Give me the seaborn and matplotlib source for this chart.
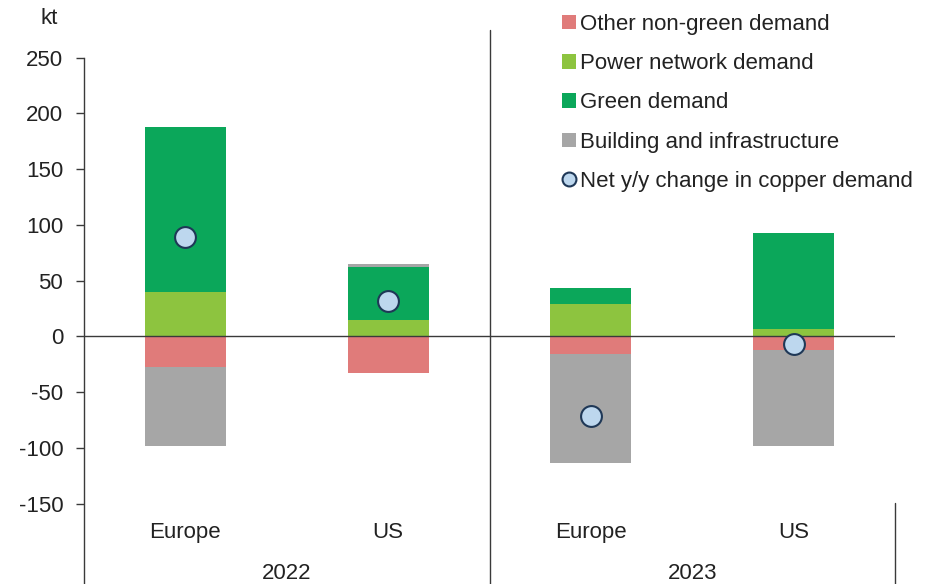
import numpy as np
import pandas as pd
import seaborn as sns
import matplotlib
matplotlib.use("Agg")
import matplotlib.pyplot as plt
from matplotlib.patches import Patch
from matplotlib.lines import Line2D

# ---- data (kt) ----
regions = ["Europe", "US", "Europe", "US"]
years = ["2022", "2022", "2023", "2023"]
other_non_green = [-27.5, -33.0, -16.0, -12.5]
power_network = [40.0, 14.5, 29.0, 6.5]
green_demand = [148.0, 47.5, 14.0, 86.5]
building_infra = [-71.0, 3.0, -97.5, -85.5]
net_change = [89.0, 32.0, -71.0, -6.5]
series_names = ["Other non-green demand", "Power network demand", "Green demand",
                "Building and infrastructure", "Net y/y change in copper demand"]
y_ticks = [-150, -100, -50, 0, 50, 100, 150, 200, 250]
unit_label = "kt"

# ---- style ----
c_other = "#E07B7A"
c_power = "#8DC43F"
c_green = "#0BA75A"
c_build = "#A6A6A6"
c_dot_face = "#BDD7EE"
c_dot_edge = "#1F3857"
c_axis = "#3A3A3A"
FS = 16

sns.set_theme(style="white")
plt.rcParams["font.family"] = ["Liberation Sans", "DejaVu Sans"]

keys = [f"{r} {y}" for r, y in zip(regions, years)]
df = pd.DataFrame({
    "key": keys,
    "other": other_non_green,
    "power": power_network,
    "green": green_demand,
    "build": building_infra,
    "net": net_change,
})
df["pos_top"] = df["power"] + df["green"]
df["build_end"] = np.where(df["build"] > 0, df["pos_top"] + df["build"], df["other"] + df["build"])

fig = plt.figure(figsize=(9.43, 5.84), dpi=100)
ax = fig.add_axes([84 / 943, 0, (895 - 84) / 943, (584 - 30) / 584])

# overlay stacked layers (largest extent first)
for col, color in [("build_end", c_build), ("pos_top", c_green),
                   ("power", c_power), ("other", c_other)]:
    sns.barplot(data=df, x="key", y=col, order=keys, color=color, saturation=1,
                width=0.4, errorbar=None, ax=ax, linewidth=0, zorder=1)

sns.pointplot(data=df, x="key", y="net", order=keys, linestyle="none", marker="o",
              markersize=15, color=c_dot_edge, errorbar=None, ax=ax)
dots = ax.lines[-1]
dots.set_markerfacecolor(c_dot_face)
dots.set_markeredgecolor(c_dot_edge)
dots.set_markeredgewidth(1.5)
dots.set_zorder(5)

ymin, ymax = -221.9, 274.7
ax.set_ylim(ymin, ymax)
ax.set_xlim(-0.5, len(keys) - 0.5)

ax.axhline(0, color=c_axis, lw=1, zorder=3)
# group separators
ax.plot([1.5, 1.5], [ymin, ymax], color=c_axis, lw=1, zorder=3, clip_on=False)
ax.plot([3.5, 3.5], [ymin, -149], color=c_axis, lw=1, zorder=3, clip_on=False)

for sp in ["top", "right", "bottom"]:
    ax.spines[sp].set_visible(False)
ax.spines["left"].set_color(c_axis)
ax.spines["left"].set_linewidth(1)
ax.spines["left"].set_bounds(ymin, 250)

ax.set_yticks(y_ticks)
ax.set_yticklabels([str(t) for t in y_ticks])
ax.tick_params(axis="y", left=True, length=6, width=1, color=c_axis, direction="out",
               pad=9, labelsize=FS, labelcolor="#222222")
ax.set_xticks([])
ax.set_xlabel("")
ax.set_ylabel("")

for i, r in enumerate(regions):
    ax.text(i, -176, r, ha="center", va="center", fontsize=FS, color="#222222")
for yr in sorted(set(years)):
    idx = [i for i, y in enumerate(years) if y == yr]
    ax.text(np.mean(idx), -212.5, yr, ha="center", va="center", fontsize=FS, color="#222222")

fig.text(40 / 943, 1 - 18 / 584, unit_label, ha="left", va="center", fontsize=FS, color="#222222")

handles = [
    Patch(facecolor=c_other, edgecolor="none"),
    Patch(facecolor=c_power, edgecolor="none"),
    Patch(facecolor=c_green, edgecolor="none"),
    Patch(facecolor=c_build, edgecolor="none"),
    Line2D([], [], linestyle="none", marker="o", markersize=10,
           markerfacecolor=c_dot_face, markeredgecolor=c_dot_edge, markeredgewidth=1.5),
]
leg = fig.legend(handles, series_names, loc="upper left",
                 bbox_to_anchor=(562 / 943, 1 - 14 / 584), frameon=False,
                 fontsize=FS, handlelength=0.62, handleheight=0.62, handletextpad=0.2,
                 labelspacing=0.82, borderpad=0, borderaxespad=0)
for t in leg.get_texts():
    t.set_color("#222222")

fig.savefig("out.png", dpi=100)
